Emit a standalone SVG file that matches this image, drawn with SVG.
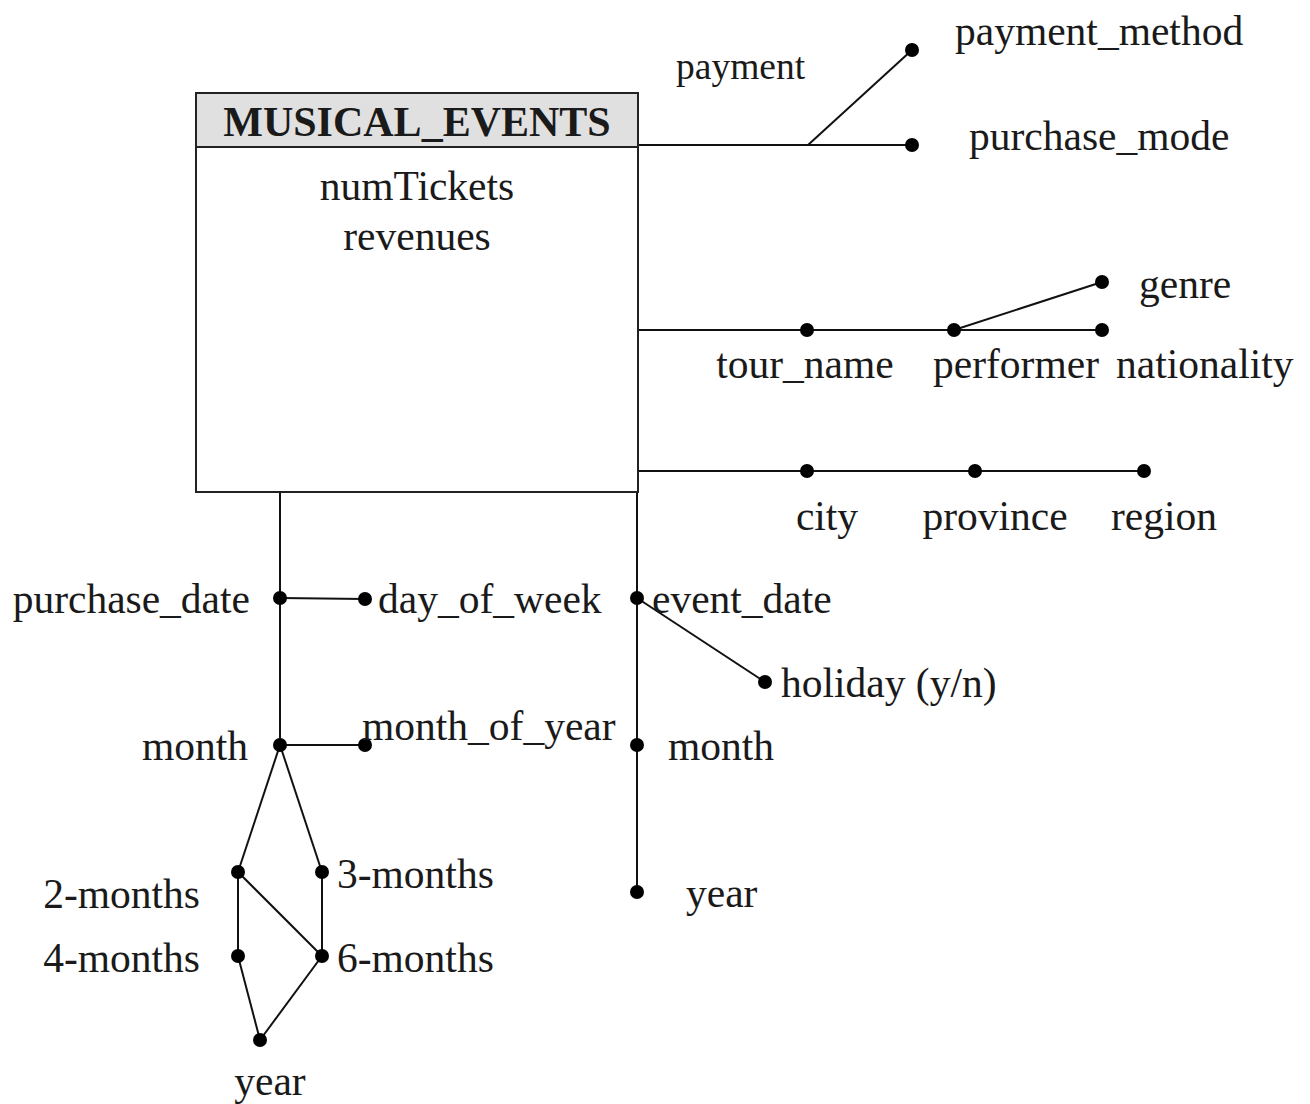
<svg xmlns="http://www.w3.org/2000/svg" width="1310" height="1104" viewBox="0 0 1310 1104">
<style>
text{font-family:"Liberation Serif","Times New Roman",serif;font-size:41.5px;fill:#1a1a1a}
.t{font-weight:bold;font-size:42px}
.s{font-size:37.5px}
.m{text-anchor:middle}
.e{text-anchor:end}
line{stroke:#111;stroke-width:2}
.d{fill:#000}
</style>
<rect width="1310" height="1104" fill="#fff"/>
<g id="connectors">
<line x1="638" y1="145" x2="912" y2="145"/>
<line x1="808" y1="145" x2="912" y2="50"/>
<line x1="638" y1="330" x2="1102" y2="330"/>
<line x1="954" y1="330" x2="1102" y2="282"/>
<line x1="638" y1="471" x2="1144" y2="471"/>
<line x1="280" y1="492" x2="280" y2="745"/>
<line x1="280" y1="598" x2="365" y2="599"/>
<line x1="280" y1="745" x2="365" y2="745"/>
<line x1="280" y1="745" x2="238" y2="872"/>
<line x1="280" y1="745" x2="322" y2="872"/>
<line x1="238" y1="872" x2="238" y2="956"/>
<line x1="322" y1="872" x2="322" y2="956"/>
<line x1="238" y1="872" x2="322" y2="956"/>
<line x1="238" y1="956" x2="260" y2="1040"/>
<line x1="322" y1="956" x2="260" y2="1040"/>
<line x1="637" y1="492" x2="637" y2="892"/>
<line x1="637" y1="598" x2="765" y2="682"/>
</g>
<g id="MUSICAL_EVENTS">
<rect x="196" y="93" width="442" height="399" fill="#fff" stroke="#222" stroke-width="2"/>
<rect x="196" y="93" width="442" height="54" fill="#e0e0e0" stroke="#222" stroke-width="2"/>
<text class="t m" x="417" y="136">MUSICAL_EVENTS</text>
<text class="m" x="417" y="200">numTickets</text>
<text class="m" x="417" y="250">revenues</text>
</g>
<g id="payment"><text class="s" x="676" y="79">payment</text></g>
<g id="payment_method"><circle class="d" cx="912" cy="50" r="7"/><text x="955" y="45">payment_method</text></g>
<g id="purchase_mode"><circle class="d" cx="912" cy="145" r="7"/><text x="969" y="150">purchase_mode</text></g>
<g id="tour_name"><circle class="d" cx="807" cy="330" r="7"/><text class="m" x="805" y="378">tour_name</text></g>
<g id="performer"><circle class="d" cx="954" cy="330" r="7"/><text class="m" x="1016" y="378">performer</text></g>
<g id="nationality"><circle class="d" cx="1102" cy="330" r="7"/><text x="1116" y="378">nationality</text></g>
<g id="genre"><circle class="d" cx="1102" cy="282" r="7"/><text x="1139" y="298">genre</text></g>
<g id="city"><circle class="d" cx="807" cy="471" r="7"/><text class="m" x="827" y="530">city</text></g>
<g id="province"><circle class="d" cx="975" cy="471" r="7"/><text class="m" x="995" y="530">province</text></g>
<g id="region"><circle class="d" cx="1144" cy="471" r="7"/><text class="m" x="1164" y="530">region</text></g>
<g id="purchase_date"><circle class="d" cx="280" cy="598" r="7"/><text class="e" x="250" y="613">purchase_date</text></g>
<g id="day_of_week"><circle class="d" cx="365" cy="599" r="7"/><text x="378" y="613">day_of_week</text></g>
<g id="month_p"><circle class="d" cx="280" cy="745" r="7"/><text class="e" x="248" y="760">month</text></g>
<g id="month_of_year"><circle class="d" cx="365" cy="745" r="7"/><text x="362" y="740">month_of_year</text></g>
<g id="two_months"><circle class="d" cx="238" cy="872" r="7"/><text class="e" x="200" y="908">2-months</text></g>
<g id="three_months"><circle class="d" cx="322" cy="872" r="7"/><text x="337" y="888">3-months</text></g>
<g id="four_months"><circle class="d" cx="238" cy="956" r="7"/><text class="e" x="200" y="972">4-months</text></g>
<g id="six_months"><circle class="d" cx="322" cy="956" r="7"/><text x="337" y="972">6-months</text></g>
<g id="year_p"><circle class="d" cx="260" cy="1040" r="7"/><text class="m" x="270" y="1095">year</text></g>
<g id="event_date"><circle class="d" cx="637" cy="598" r="7"/><text x="652" y="613">event_date</text></g>
<g id="holiday"><circle class="d" cx="765" cy="682" r="7"/><text x="781" y="697">holiday (y/n)</text></g>
<g id="month_e"><circle class="d" cx="637" cy="745" r="7"/><text x="668" y="760">month</text></g>
<g id="year_e"><circle class="d" cx="637" cy="892" r="7"/><text x="686" y="907">year</text></g>
</svg>
